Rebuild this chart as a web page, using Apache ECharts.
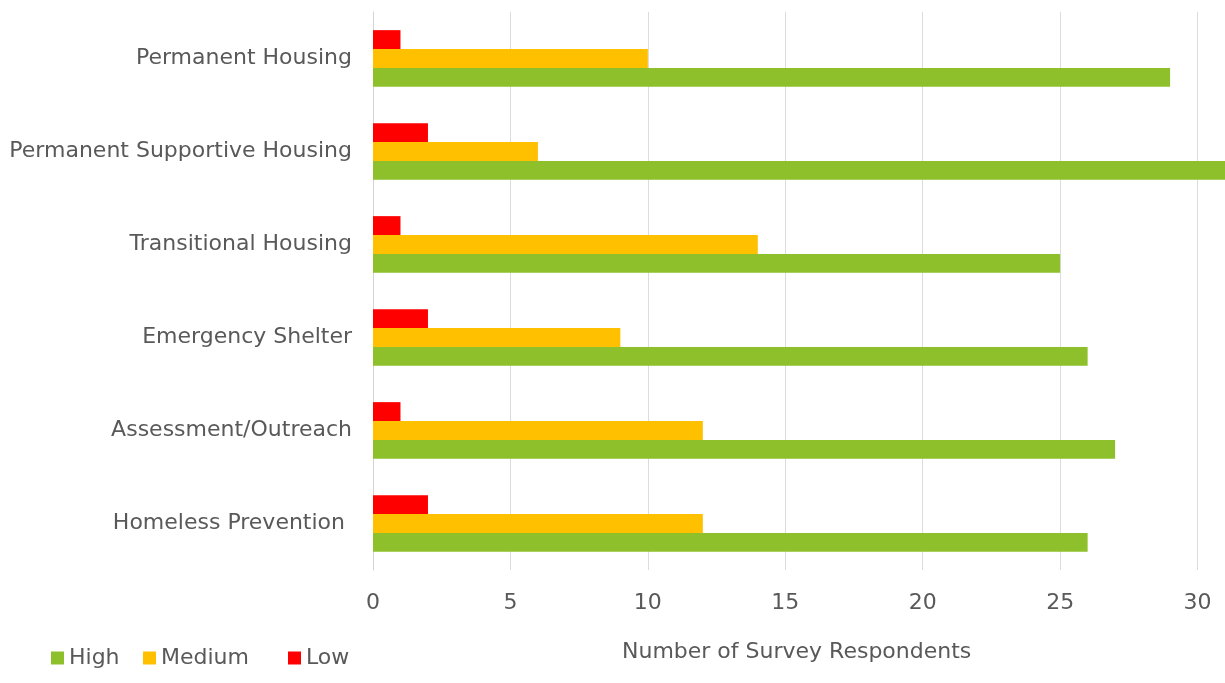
<!DOCTYPE html>
<html>
<head>
<meta charset="utf-8">
<script src="https://cdn.jsdelivr.net/npm/echarts@6/dist/echarts.min.js"></script>
<style>
  html, body { margin: 0; padding: 0; background: #ffffff; }
  #chart { width: 1225px; height: 683px; }
</style>
</head>
<body>
<div id="chart"></div>
<script>
// Service categories, listed top to bottom
const categories = [
  'Permanent Housing',
  'Permanent Supportive Housing',
  'Transitional Housing',
  'Emergency Shelter',
  'Assessment/Outreach',
  'Homeless Prevention '
];
// Respondent counts per priority level
const lowValues = [1, 2, 1, 2, 1, 2];
const mediumValues = [10, 6, 14, 9, 12, 12];
const highValues = [29, 31, 25, 26, 27, 26];
const xTicks = { min: 0, max: 35, interval: 5 };

const FONT = '"DejaVu Sans", sans-serif';
const TEXT = '#595959';
const COLORS = { High: '#8dc02a', Medium: '#ffc000', Low: '#ff0000' };

const chart = echarts.init(document.getElementById('chart'), null, { renderer: 'canvas' });

function legendAt(name, left) {
  return {
    data: [name],
    left: left,
    top: 647,
    icon: 'rect',
    itemWidth: 13,
    itemHeight: 13,
    itemGap: 6,
    padding: 0,
    selectedMode: false,
    textStyle: { color: TEXT, fontFamily: FONT, fontSize: 22, lineHeight: 22, padding: [0, 0, 0, 0] }
  };
}

chart.setOption({
  animation: false,
  backgroundColor: '#ffffff',
  textStyle: { fontFamily: FONT },
  title: {
    text: 'Number of Survey Respondents',
    left: 622,
    top: 641,
    padding: 0,
    textStyle: { color: TEXT, fontFamily: FONT, fontSize: 22, lineHeight: 22, fontWeight: 'normal' }
  },
  legend: [legendAt('High', 51), legendAt('Medium', 143), legendAt('Low', 288)],
  // the value axis runs on past the right edge of the page
  grid: { left: 373, top: 12, width: 962, bottom: 113, outerBoundsMode: 'none', containLabel: false },
  xAxis: {
    type: 'value',
    min: xTicks.min,
    max: xTicks.max,
    interval: xTicks.interval,
    axisLine: { show: false },
    axisTick: { show: false },
    axisLabel: { color: TEXT, fontFamily: FONT, fontSize: 22, margin: 22 },
    splitLine: { show: true, lineStyle: { color: '#dcdcdc', width: 1 } }
  },
  yAxis: {
    type: 'category',
    data: categories,
    inverse: true,
    axisLine: { show: true, lineStyle: { color: '#d4d4d4', width: 1 } },
    axisTick: { show: false },
    axisLabel: { color: TEXT, fontFamily: FONT, fontSize: 22, margin: 21 },
    splitLine: { show: false }
  },
  series: [
    { name: 'Low', type: 'bar', data: lowValues, itemStyle: { color: COLORS.Low }, barGap: '0%', barCategoryGap: '39%' },
    { name: 'Medium', type: 'bar', data: mediumValues, itemStyle: { color: COLORS.Medium }, barGap: '0%', barCategoryGap: '39%' },
    { name: 'High', type: 'bar', data: highValues, itemStyle: { color: COLORS.High }, barGap: '0%', barCategoryGap: '39%' }
  ]
});
</script>
</body>
</html>
